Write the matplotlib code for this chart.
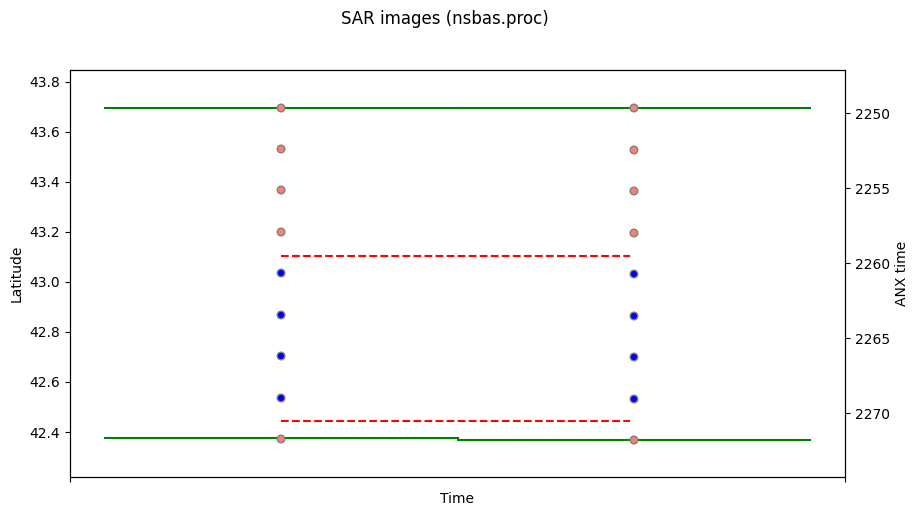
import matplotlib
matplotlib.use("Agg")
import matplotlib.pyplot as plt
import numpy as np

# acquisition times (relative, days) of the two SAR images
times = [0.0, 1.0]

# burst latitudes read for each image
lat_img1 = [43.696, 43.532, 43.368, 43.200, 43.036, 42.868, 42.704, 42.536, 42.372]
lat_img2 = [43.696, 43.528, 43.364, 43.196, 43.032, 42.864, 42.700, 42.532, 42.368]
burst_colors = ["salmon", "salmon", "salmon", "salmon", "blue", "blue", "blue", "blue", "salmon"]

# image footprint bounds (green)
lat_top = [43.697, 43.697]
lat_bot = [42.374, 42.370]

# processing area bounds (red dashed)
area_lat = [43.104, 42.444]
area_end = 0.99

anx_lim = (2274.25, 2247.11)

fig = plt.figure(figsize=(9.19, 5.15), dpi=100)
ax = fig.add_axes([70 / 919, 1 - 477 / 515, 775 / 919, 407 / 515])
fig.suptitle("SAR images (nsbas.proc)", fontsize=12, x=445 / 919, y=0.98)

for t, top, bot in zip(times, lat_top, lat_bot):
    ax.plot([t - 0.5, t + 0.5], [top, top], color="green", lw=1.5)
    ax.plot([t - 0.5, t + 0.5], [bot, bot], color="green", lw=1.5)

for lat in area_lat:
    ax.plot([times[0], area_end], [lat, lat], "r--", lw=1.5)

for t, lats in zip(times, [lat_img1, lat_img2]):
    ax.scatter([t] * len(lats), lats, c=burst_colors, edgecolors="gray",
               s=30, linewidths=1, zorder=3)

ax.set_xlim(-0.598, 1.598)
ax.set_ylim(42.22, 43.848)
ax.set_xticks([-0.598, 1.598])
ax.set_xticklabels(["", ""])
ax.set_yticks(np.arange(42.4, 43.81, 0.2))
ax.set_xlabel("Time")
ax.set_ylabel("Latitude")

ax2 = ax.twinx()
ax2.set_ylim(*anx_lim)
ax2.set_yticks([2250, 2255, 2260, 2265, 2270])
ax2.set_ylabel("ANX time")

fig.savefig("out.png", dpi=100)
